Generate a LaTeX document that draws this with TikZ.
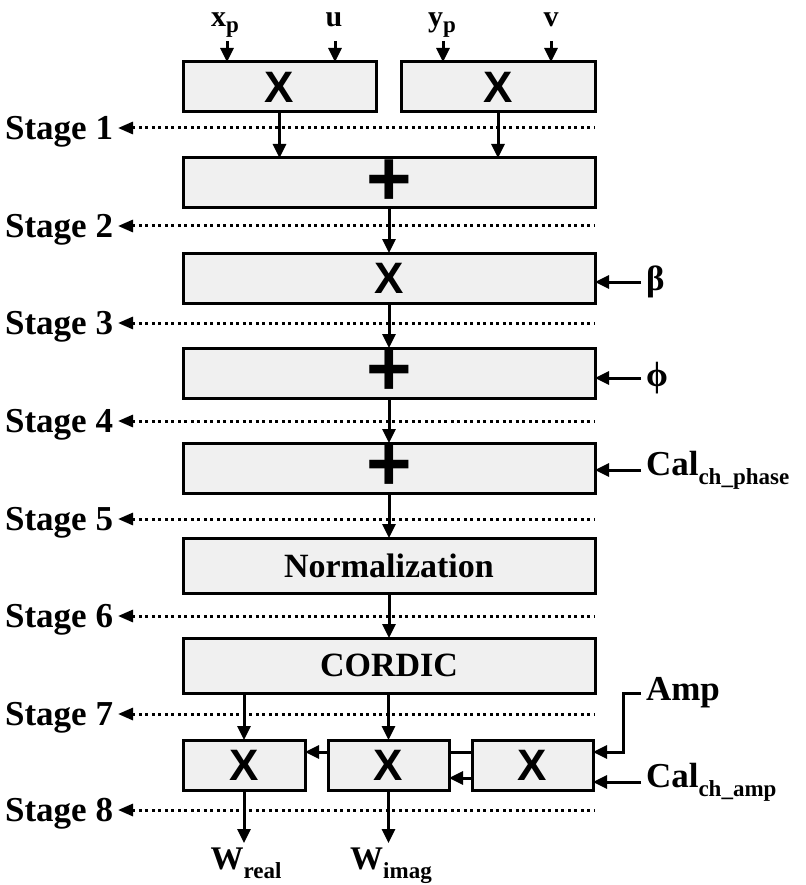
\documentclass[tikz,border=0pt]{standalone}
\usepackage{fontspec}
\setmainfont{Liberation Serif}
\newfontfamily\arialfont{Liberation Sans}
\usetikzlibrary{positioning, arrows.meta}

\newcommand{\lowsub}[2][9pt]{\raisebox{-#1}{\fontsize{23}{23}\selectfont #2}}

\begin{document}
\begin{tikzpicture}[x=1pt, y=-1pt, line width=3pt,
	>={Triangle[length=14pt, width=13pt]},
	unit/.style={draw, fill=black!6, outer sep=0pt, inner sep=0pt, minimum height=50pt,
		font=\fontsize{44}{44}\selectfont\arialfont\bfseries},
	plusunit/.style={unit, font=\fontsize{78}{78}\selectfont\arialfont\bfseries},
	textunit/.style={unit, minimum height=55pt, font=\fontsize{34}{34}\selectfont\bfseries},
	stagelbl/.style={anchor=east, inner sep=5pt, outer sep=0pt, text height=23pt, text depth=0pt,
		font=\fontsize{35}{35}\selectfont\bfseries},
	stageline/.style={{Triangle[length=15pt, width=12pt]}-, dash pattern=on 3pt off 3.5pt},
	toplbl/.style={anchor=base, inner sep=0pt, font=\fontsize{30}{30}\selectfont\bfseries},
	sidelbl/.style={anchor=west, inner sep=5pt, outer sep=0pt, font=\fontsize{35}{35}\selectfont\bfseries},
	outlbl/.style={anchor=north, inner sep=3pt, font=\fontsize{33}{33}\selectfont\bfseries}]
	\useasboundingbox (0,0) rectangle (805,885);

	\foreach \y [count=\i] in {128,226,323,421,519,616,714,810} {
		\node[stagelbl] (stage\i) at (118,\y) {Stage \i};
		\coordinate (stageend\i) at (595,\y);
		\draw[stageline] (stage\i) -- (stageend\i);
	}

	\node[plusunit, minimum width=412pt] (addxy) at (389,183) {+};
	\node[unit, minimum width=193pt, above right=46pt and 0pt of addxy.north west] (mulx) {X};
	\node[unit, minimum width=194pt, right=25pt of mulx] (muly) {X};
	\node[unit, minimum width=412pt, below=45pt of addxy] (mulb) {X};
	\node[plusunit, minimum width=412pt, below=45pt of mulb] (addphi) {+};
	\node[plusunit, minimum width=412pt, below=45pt of addphi] (addcal) {+};
	\node[textunit, minimum width=412pt, below=45pt of addcal] (norm) {Normalization};
	\node[textunit, minimum width=412pt, below=45pt of norm] (cordic) {CORDIC};
	\node[unit, minimum width=122pt, below right=47pt and 0pt of cordic.south west] (mulre) {X};
	\node[unit, minimum width=121pt, right=23pt of mulre] (mulim) {X};
	\node[unit, minimum width=121pt, right=23pt of mulim] (mulamp) {X};

	\node[toplbl] (xp) at (225,27) {x\lowsub[6pt]{p}};
	\node[toplbl] (u) at (334,27) {u};
	\node[toplbl] (yp) at (442,27) {y\lowsub[6pt]{p}};
	\node[toplbl] (v) at (551,27) {v};
	\coordinate (xpin) at (227,41);
	\coordinate (uin) at (335,41);
	\coordinate (ypin) at (443,41);
	\coordinate (vin) at (551,41);

	\node[sidelbl] (beta) at (641,282) {β};
	\node[sidelbl] (phi) at (641,378) {ϕ};
	\node[sidelbl] (calph) at (641,470) {Cal\lowsub{ch\_phase}};
	\node[sidelbl] (amp) at (641,693) {Amp};
	\node[sidelbl] (calamp) at (641,782) {Cal\lowsub{ch\_amp}};

	\node[outlbl] (wreal) at (246,843) {W\lowsub{real}};
	\node[outlbl] (wimag) at (391,843) {W\lowsub{imag}};

	\path [every edge/.append style={->}]
		(xpin) edge (xpin |- mulx.north)
		(uin) edge (uin |- mulx.north)
		(ypin) edge (ypin |- muly.north)
		(vin) edge (vin |- muly.north)
		(mulx.south) edge (mulx.south |- addxy.north)
		(muly.south) edge (muly.south |- addxy.north)

		(addxy) edge (mulb)
		(mulb) edge (addphi)
		(addphi) edge (addcal)
		(addcal) edge (norm)
		(norm) edge (cordic)

		(beta.west) edge (beta.west -| mulb.east)
		(phi.west) edge (phi.west -| addphi.east)
		(calph.west) edge (calph.west -| addcal.east)
		(calamp.west) edge (calamp.west -| mulamp.east)

		(cordic.south -| mulre.north) edge (mulre.north)
		(cordic.south -| mulim.north) edge (mulim.north)
		([yshift=-13pt]mulamp.west) edge ([yshift=-13pt]mulim.east)
		([yshift=13pt]mulim.west) edge ([yshift=13pt]mulre.east)
		(mulre.south) edge (mulre.south |- wreal.north)
		(mulim.south) edge (mulim.south |- wimag.north)
		;
	\draw ([yshift=13pt]mulamp.west) -- ([yshift=13pt]mulim.east);
	\draw [->] (amp.west) -- ++(-18,0) |- ([yshift=13pt]mulamp.east);
\end{tikzpicture}
\end{document}
